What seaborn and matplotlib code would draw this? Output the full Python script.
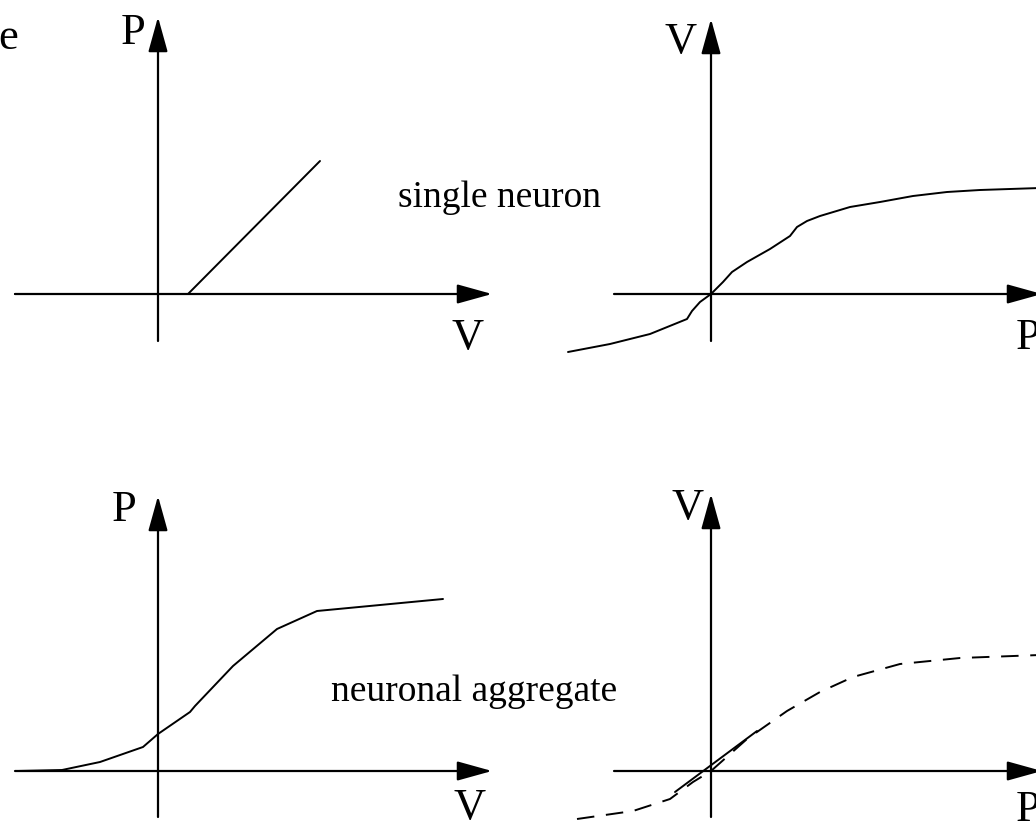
import matplotlib
matplotlib.use("Agg")
import matplotlib.pyplot as plt
import seaborn as sns
import pandas as pd

sns.set_theme(style="white")
plt.rcParams["font.family"] = ["Liberation Serif", "DejaVu Serif"]
plt.rcParams["text.color"] = "black"

W, H = 1036, 828

# Curve shapes, in local units relative to each panel's origin
tl_x = [-143, 30, 162]
tl_y = [0, 0, 133]

tr_x = [-143, -101, -61, -24, -19, -11, 0, 12, 21, 36, 59, 79, 86, 96, 109, 139, 169, 202, 236, 269, 329]
tr_y = [-58, -50, -40, -25, -17, -8, 0, 12, 22, 32, 45, 58, 67, 73, 78, 87, 92, 98, 102, 104, 106]

bl_x = [-141, -96, -58, -15, 0, 32, 37, 75, 119, 159, 285]
bl_y = [0, 1, 9, 24, 37, 59, 65, 105, 142, 160, 172]

br_x = [-134, -78, -41, -18, 0, 36, 76, 109, 142, 189, 249, 329]
br_y = [-48, -40, -28, -11, 0, 32, 60, 79, 94, 107, 113, 116]
br_seg_x = [-36, 46]
br_seg_y = [-21, 40]

fig = plt.figure(figsize=(W / 100, H / 100), dpi=100)
fig.patch.set_facecolor("white")


def panel(box, origin):
    left, top, right, bottom = box
    ox, oy = origin
    ax = fig.add_axes([left / W, 1 - bottom / H, (right - left) / W, (bottom - top) / H])
    ax.set_xlim(left - ox, right - ox)
    ax.set_ylim(oy - bottom, oy - top)
    ax.axis("off")
    return ax


def axes_arrows(ax, h_span, v_span):
    style = "-|>,head_length=1.08,head_width=0.3"
    kw = dict(arrowstyle=style, lw=1.6, color="black", shrinkA=0, shrinkB=0, mutation_scale=20)
    ax.annotate("", xy=(h_span[1], 0), xytext=(h_span[0], 0), arrowprops=kw, annotation_clip=False)
    ax.annotate("", xy=(0, v_span[1]), xytext=(0, v_span[0]), arrowprops=kw, annotation_clip=False)


def label(ax, x, y, s):
    ax.text(x, y, s, fontsize=32, ha="center", va="center", color="black", clip_on=False)


def curve(ax, xs, ys, **kw):
    df = pd.DataFrame({"x": xs, "y": ys})
    sns.lineplot(data=df, x="x", y="y", sort=False, estimator=None, color="black", ax=ax, **kw)
    ax.set_xlabel("")
    ax.set_ylabel("")


# Top left: single neuron, P against V
ax1 = panel((0, 0, 518, 414), (158, 295))
axes_arrows(ax1, (-143, 334), (-47, 277))
curve(ax1, tl_x, tl_y, lw=1.4)
label(ax1, -25, 262, "P")
label(ax1, 310, -43, "V")
ax1.text(-150, 257, "e", fontsize=32, ha="center", va="center", color="black", clip_on=False)

# Top right: single neuron, V against P
ax2 = panel((518, 0, 1036, 414), (711, 295))
axes_arrows(ax2, (-97, 331), (-47, 275))
curve(ax2, tr_x, tr_y, lw=1.4)
label(ax2, -30, 253, "V")
label(ax2, 317, -43, "P")

# Bottom left: neuronal aggregate, P against V
ax3 = panel((0, 414, 518, 828), (158, 772))
axes_arrows(ax3, (-143, 334), (-46, 275))
curve(ax3, bl_x, bl_y, lw=1.4)
label(ax3, -34, 262, "P")
label(ax3, 312, -36, "V")

# Bottom right: neuronal aggregate, V against P
ax4 = panel((518, 414, 1036, 828), (711, 772))
axes_arrows(ax4, (-97, 331), (-46, 277))
curve(ax4, br_x, br_y, lw=1.4, dashes=False, linestyle=(0, (9, 6)))
curve(ax4, br_seg_x, br_seg_y, lw=1.4)
label(ax4, -23, 264, "V")
label(ax4, 317, -38, "P")

fig.text(500 / W, 1 - 198 / H, "single neuron", fontsize=27, ha="center", va="center", color="black")
fig.text(474 / W, 1 - 692 / H, "neuronal aggregate", fontsize=27, ha="center", va="center", color="black")

fig.savefig("out.png", dpi=100, facecolor="white")
